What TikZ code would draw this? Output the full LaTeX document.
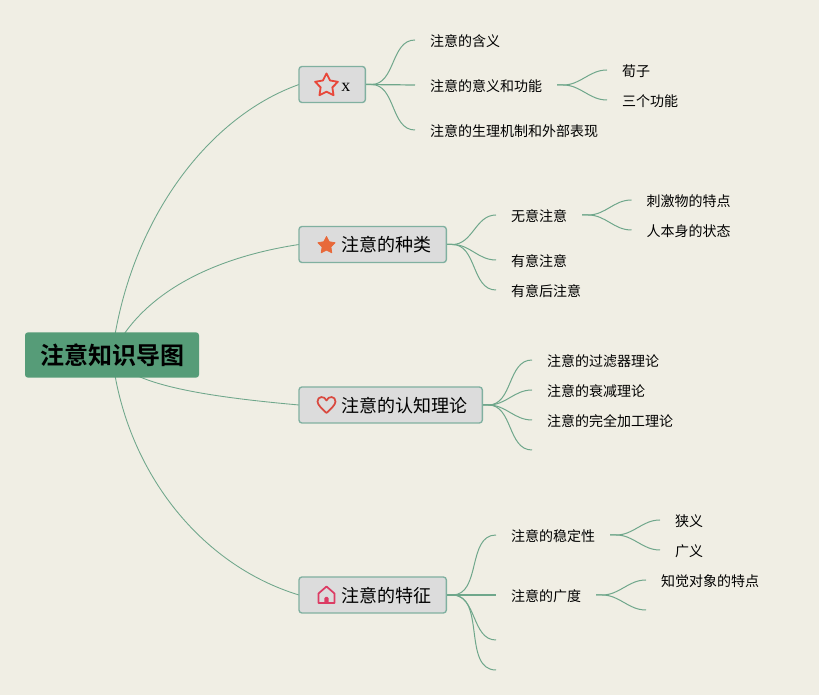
\documentclass[tikz,border=0pt]{standalone}
\usepackage{fontspec}
\usetikzlibrary{backgrounds,shapes.geometric}
\newfontfamily\cjk[BoldFont={Noto Sans CJK SC Bold}]{Noto Sans CJK SC}
\newfontfamily\latinx{Liberation Serif}
\definecolor{bgc}{HTML}{F0EEE4}
\definecolor{rootc}{HTML}{569C78}
\definecolor{linec}{HTML}{6FA78B}
\definecolor{boxc}{HTML}{DCDCDC}
\definecolor{boxl}{HTML}{80B0A0}
\definecolor{starc}{HTML}{E8473A}
\definecolor{orangec}{HTML}{E8693A}
\definecolor{heartc}{HTML}{D9493F}
\definecolor{housec}{HTML}{DC3C64}
\tikzset{
  rootbox/.style={fill=rootc,rounded corners=2.2pt,inner xsep=10.5pt,inner ysep=0pt,minimum height=34pt,outer sep=0pt,
    font=\cjk\bfseries\fontsize{18pt}{18pt}\selectfont,text height=1.47em,text depth=0em,text=black},
  topicbox/.style={draw=boxl,fill=boxc,line width=1pt,rounded corners=2.2pt,anchor=west,inner xsep=11.25pt,inner ysep=0pt,minimum height=27pt,outer sep=0pt,
    font=\cjk\fontsize{13.5pt}{13.5pt}\selectfont,text height=1.1em,text depth=0em,text=black},
  leaf/.style={anchor=west,inner xsep=11.25pt,inner ysep=0pt,outer sep=0pt,
    font=\cjk\fontsize{10.5pt}{10.5pt}\selectfont,text height=1.02em,text depth=0em,text=black},
  conn/.style={draw=linec,line width=.75pt},
  main/.style={draw=linec,line width=.65pt},
  iconstar/.style={star,star points=5,star point ratio=1.95,inner sep=0pt,outer sep=0pt,line join=round}
}
\begin{document}
\begin{tikzpicture}[x=.75pt,y=-.75pt]
\useasboundingbox (0,0) rectangle (819,695);
% root
\node[rootbox] (root) at (112,355) {\hspace*{1.5pt}注意知识导图};
% topics
\node[topicbox] (t1) at (299,84.5) {\hspace*{20.5pt}\latinx\fontsize{13.5pt}{13.5pt}\selectfont x};
\node[topicbox] (t2) at (299,244.5) {\hspace*{20.5pt}注意的种类};
\node[topicbox] (t3) at (299,405) {\hspace*{20.5pt}注意的认知理论};
\node[topicbox] (t4) at (299,595) {\hspace*{20.5pt}注意的特征};
% icons
\node[iconstar,draw=starc,line width=1.35pt,minimum size=18pt] (i1) at (326.5,85.5) {};
\node[iconstar,fill=orangec,draw=orangec,line width=.6pt,minimum size=13.5pt] (i2) at (326.5,245.5) {};
\begin{scope}[shift={(326.5,405)}]
\draw[heartc,line width=1.3pt,line join=round] (0,8)
  .. controls (-4,4) and (-9,0) .. (-9,-3.5)
  .. controls (-9,-9) and (-2,-9.5) .. (0,-4.5)
  .. controls (2,-9.5) and (9,-9) .. (9,-3.5)
  .. controls (9,0) and (4,4) .. cycle;
\end{scope}
\begin{scope}[shift={(326.5,595)}]
\draw[housec,line width=1.3pt,line join=round] (-8,8) -- (-8,-1.5) -- (0,-8.5) -- (8,-1.5) -- (8,8) -- cycle;
\fill[housec,rounded corners=1pt] (-2.2,8) rectangle (2.2,2);
\end{scope}
% leaves t1
\node[leaf] (a1) at (415,40) {注意的含义};
\node[leaf] (a2) at (415,85) {注意的意义和功能};
\node[leaf] (a3) at (415,130) {注意的生理机制和外部表现};
\node[leaf] (a21) at (607,70) {荀子};
\node[leaf] (a22) at (607,100) {三个功能};
% t2
\node[leaf] (b1) at (496,215) {无意注意};
\node[leaf] (b2) at (496,260) {有意注意};
\node[leaf] (b3) at (496,290) {有意后注意};
\node[leaf] (b11) at (631.5,200) {刺激物的特点};
\node[leaf] (b12) at (631.5,230) {人本身的状态};
% t3
\node[leaf] (c1) at (532,360) {注意的过滤器理论};
\node[leaf] (c2) at (532,390) {注意的衰减理论};
\node[leaf] (c3) at (532,420) {注意的完全加工理论};
\coordinate (c4) at (532,450);
% t4
\node[leaf] (d1) at (496,535) {注意的稳定性};
\node[leaf] (d2) at (496,595) {注意的广度};
\coordinate (d3) at (496,640);
\coordinate (d4) at (496,670);
\node[leaf] (d11) at (660,520) {狭义};
\node[leaf] (d12) at (660,550) {广义};
\node[leaf] (d21) at (646,580) {知觉对象的特点};
\coordinate (d22) at (646,610);
\begin{scope}[on background layer]
\fill[bgc] (0,0) rectangle (819,695);
% root connectors
\draw[main] (root.center) .. controls (128,225) and (205,118) .. (t1.west);
\draw[main] (root.center) .. controls (140,295) and (210,258) .. (t2.west);
\draw[main] (root.center) .. controls (125,385) and (210,397) .. (t3.west);
\draw[main] (root.center) .. controls (125,470) and (200,565) .. (t4.west);
% branches
\foreach \s/\e in {t1.east/a1.west,t1.east/a3.west,a2.east/a21.west,a2.east/a22.west,
  t2.east/b1.west,t2.east/b2.west,t2.east/b3.west,b1.east/b11.west,b1.east/b12.west,
  t3.east/c1.west,t3.east/c2.west,t3.east/c3.west,t3.east/c4,
  t4.east/d1.west,t4.east/d3,t4.east/d4,d1.east/d11.west,d1.east/d12.west,d2.east/d21.west,d2.east/d22}{
  \draw[conn] (\s) -- ++(6,0) to[out=0,in=180,looseness=1] (\e);
}
\draw[conn,line width=.9pt] (t1.east) -- (a2.west);
\draw[conn,line width=.9pt] (t4.east) -- (d2.west);
\end{scope}
\end{tikzpicture}
\end{document}
